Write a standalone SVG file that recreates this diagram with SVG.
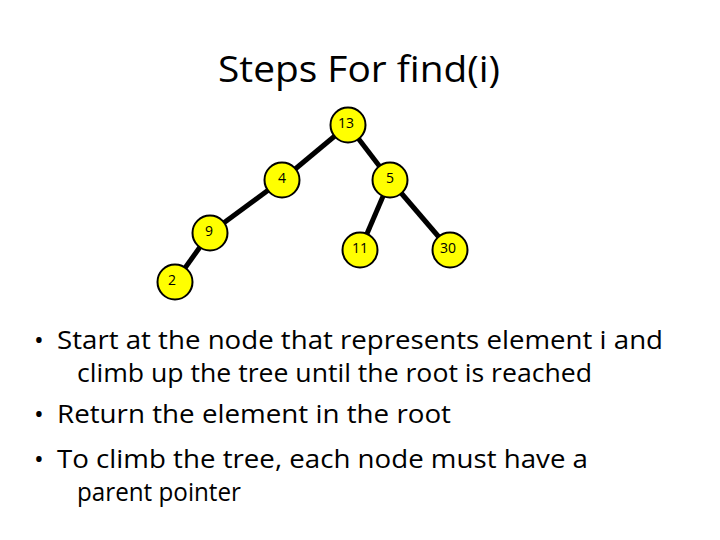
<svg xmlns="http://www.w3.org/2000/svg" width="720" height="540" viewBox="0 0 720 540">
<style>
.n{fill:#ffff00;stroke:#000;stroke-width:2}
.l{font-family:"Open Sans",sans-serif;font-size:14px;fill:#000;text-anchor:middle}
.e{stroke:#000;stroke-width:5}
.b{font-family:"Open Sans",sans-serif;font-size:26px;fill:#000}
</style>
<rect width="720" height="540" fill="#fff"/>
<text x="218" y="82" textLength="282" lengthAdjust="spacingAndGlyphs" style="font-family:'Open Sans',sans-serif;font-size:36px">Steps For find(i)</text>
<g id="connectors">
<line class="e" x1="348" y1="125" x2="282" y2="180"/>
<line class="e" x1="348" y1="125" x2="390" y2="180"/>
<line class="e" x1="282" y1="180" x2="210" y2="233"/>
<line class="e" x1="210" y1="233" x2="175" y2="282"/>
<line class="e" x1="390" y1="180" x2="360" y2="250"/>
<line class="e" x1="390" y1="180" x2="450" y2="250"/>
</g>
<g id="n13"><circle class="n" cx="348" cy="125" r="17.5"/><text class="l" x="346" y="128">13</text></g>
<g id="n4"><circle class="n" cx="282" cy="180" r="17.5"/><text class="l" x="282" y="183">4</text></g>
<g id="n5"><circle class="n" cx="390" cy="180" r="17.5"/><text class="l" x="390" y="183">5</text></g>
<g id="n9"><circle class="n" cx="210" cy="233" r="17.5"/><text class="l" x="209" y="236">9</text></g>
<g id="n11"><circle class="n" cx="360" cy="250" r="17.5"/><text class="l" x="360" y="253">11</text></g>
<g id="n30"><circle class="n" cx="450" cy="250" r="17.5"/><text class="l" x="448" y="253">30</text></g>
<g id="n2"><circle class="n" cx="175" cy="282" r="17.5"/><text class="l" x="172" y="285">2</text></g>
<g id="bullets">
<text class="b" x="34" y="349">•</text>
<text class="b" x="57" y="349" textLength="606" lengthAdjust="spacingAndGlyphs">Start at the node that represents element i and</text>
<text class="b" x="77" y="382" textLength="515" lengthAdjust="spacingAndGlyphs">climb up the tree until the root is reached</text>
<text class="b" x="34" y="423">•</text>
<text class="b" x="57" y="423" textLength="394" lengthAdjust="spacingAndGlyphs">Return the element in the root</text>
<text class="b" x="34" y="468">•</text>
<text class="b" x="57" y="468" textLength="531" lengthAdjust="spacingAndGlyphs">To climb the tree, each node must have a</text>
<text class="b" x="77" y="501" textLength="164" lengthAdjust="spacingAndGlyphs">parent pointer</text>
</g>
</svg>
